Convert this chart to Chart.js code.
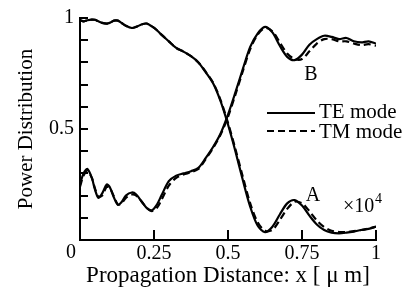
<!DOCTYPE html>
<html><head><meta charset="utf-8">
<script src="https://cdn.jsdelivr.net/npm/chart.js@4"></script>
<style>html,body{margin:0;padding:0;background:#fff}canvas{display:block}</style>
</head><body>
<canvas id="c" width="408" height="290"></canvas>
<script>
const xs = [0,0.012,0.025,0.04,0.05,0.062,0.075,0.09,0.1,0.115,0.128,0.14,0.155,0.175,0.19,0.21,0.225,0.243,0.26,0.275,0.3,0.325,0.35,0.375,0.4,0.425,0.45,0.475,0.5,0.525,0.55,0.575,0.6,0.625,0.65,0.675,0.7,0.725,0.75,0.775,0.8,0.825,0.85,0.875,0.9,0.925,0.95,0.975,1];
const teA = [0.99,0.985,0.99,0.993,0.992,0.985,0.978,0.975,0.978,0.988,0.988,0.978,0.965,0.955,0.96,0.972,0.975,0.962,0.945,0.925,0.895,0.865,0.848,0.828,0.80,0.755,0.705,0.625,0.52,0.40,0.27,0.15,0.065,0.035,0.06,0.115,0.165,0.18,0.155,0.11,0.07,0.045,0.033,0.03,0.033,0.038,0.045,0.05,0.06];
const tmA = [0.99,0.985,0.99,0.993,0.992,0.985,0.978,0.975,0.978,0.988,0.988,0.978,0.965,0.955,0.96,0.972,0.975,0.962,0.945,0.925,0.895,0.865,0.848,0.828,0.80,0.757,0.708,0.63,0.528,0.41,0.285,0.165,0.08,0.042,0.045,0.09,0.14,0.172,0.165,0.13,0.088,0.058,0.042,0.036,0.036,0.04,0.045,0.052,0.06];
const teB = [0.25,0.30,0.32,0.28,0.23,0.19,0.21,0.25,0.24,0.19,0.158,0.17,0.20,0.214,0.205,0.17,0.145,0.134,0.16,0.20,0.265,0.29,0.30,0.31,0.325,0.37,0.42,0.48,0.565,0.665,0.77,0.87,0.93,0.96,0.935,0.875,0.825,0.81,0.835,0.88,0.905,0.92,0.915,0.905,0.91,0.895,0.89,0.895,0.885];
const tmB = [0.24,0.29,0.31,0.28,0.235,0.195,0.20,0.24,0.235,0.195,0.16,0.165,0.19,0.205,0.20,0.17,0.145,0.13,0.145,0.18,0.245,0.28,0.295,0.305,0.32,0.365,0.415,0.475,0.555,0.655,0.76,0.86,0.925,0.955,0.94,0.89,0.84,0.815,0.815,0.85,0.885,0.905,0.905,0.895,0.895,0.885,0.878,0.882,0.875];
const xTicks = [0,0.25,0.5,0.75,1];
const xTickLabels = ['0','0.25','0.5','0.75','1'];
const yTicks = [0.1,0.2,0.3,0.4,0.5,0.6,0.7,0.8,0.9,1];
const yTickLabels = {'1':'1','0.5':'0.5'};

const SERIF = '"Liberation Serif","DejaVu Serif",serif';
const pts = ys => xs.map((x,i)=>({x:x,y:ys[i]}));
const ds = (ys,dash)=>({data:pts(ys),borderColor:'#000',borderWidth:2.2,borderDash:dash,pointRadius:0,tension:0.3,fill:false});

const deco = {
  id:'deco',
  afterDraw(chart){
    const ctx = chart.ctx;
    const x = chart.scales.x, y = chart.scales.y;
    ctx.save();
    ctx.setLineDash([]);
    const x0=x.getPixelForValue(0), y0=y.getPixelForValue(0);
    ctx.strokeStyle='#000';
    ctx.lineWidth=2;
    yTicks.forEach(v=>{
      const py=Math.round(y.getPixelForValue(v));
      ctx.beginPath(); ctx.moveTo(x0+1,py); ctx.lineTo(x0+8,py); ctx.stroke();
    });
    xTicks.slice(1).forEach(v=>{
      const px=Math.round(x.getPixelForValue(v));
      ctx.beginPath(); ctx.moveTo(px,y0-1); ctx.lineTo(px,y0-10); ctx.stroke();
    });
    ctx.fillStyle='#000';
    ctx.font='20px '+SERIF;
    ctx.textAlign='center'; ctx.textBaseline='middle';
    ctx.fillText('0', x0-9, y0+13);
    ctx.fillText('A', x.getPixelForValue(0.787), y.getPixelForValue(0.2));
    ctx.fillText('B', x.getPixelForValue(0.78), y.getPixelForValue(0.745));
    ctx.textAlign='left';
    ctx.fillText('\u00d710', 343, 207);
    ctx.font='14px '+SERIF;
    ctx.fillText('4', 375, 199);
    ctx.beginPath(); ctx.moveTo(267,113); ctx.lineTo(315,113); ctx.stroke();
    ctx.setLineDash([7,4]);
    ctx.beginPath(); ctx.moveTo(267,131); ctx.lineTo(315,131); ctx.stroke();
    ctx.setLineDash([]);
    ctx.font='21px '+SERIF;
    ctx.fillText('TE mode', 319, 112);
    ctx.fillText('TM mode', 319, 132);
    ctx.restore();
  }
};

new Chart(document.getElementById('c'), {
  type:'line',
  data:{datasets:[ds(teA,[]),ds(tmA,[7,4]),ds(teB,[]),ds(tmB,[7,4])]},
  options:{
    responsive:false, animation:false,
    layout:{padding:{left:0,right:32,top:16,bottom:0}},
    plugins:{legend:{display:false},tooltip:{enabled:false}},
    scales:{
      x:{type:'linear',min:0,max:1,
        afterBuildTicks:s=>{s.ticks=xTicks.map(v=>({value:v}));},
        afterFit:s=>{s.height=50;},
        grid:{display:false,drawTicks:false},
        border:{display:true,color:'#000',width:2},
        ticks:{color:'#000',font:{family:SERIF,size:20},padding:2,maxRotation:0,autoSkip:false,
          callback:(v,i)=> i===0 ? '' : xTickLabels[i]},
        title:{display:true,text:'Propagation Distance: x [ \u03bc m]',color:'#000',font:{family:SERIF,size:23},padding:{top:0,bottom:0}}
      },
      y:{type:'linear',min:0,max:1,
        afterBuildTicks:s=>{s.ticks=[{value:0.5},{value:1}];},
        afterFit:s=>{s.width=80;},
        grid:{display:false,drawTicks:false},
        border:{display:true,color:'#000',width:2},
        ticks:{color:'#000',font:{family:SERIF,size:20},padding:6,
          callback:v=> yTickLabels[String(v)] || ''},
        title:{display:true,text:'Power Distribution',color:'#000',font:{family:SERIF,size:21},padding:{top:14,bottom:0}}
      }
    }
  },
  plugins:[deco]
});
</script>
</body></html>
